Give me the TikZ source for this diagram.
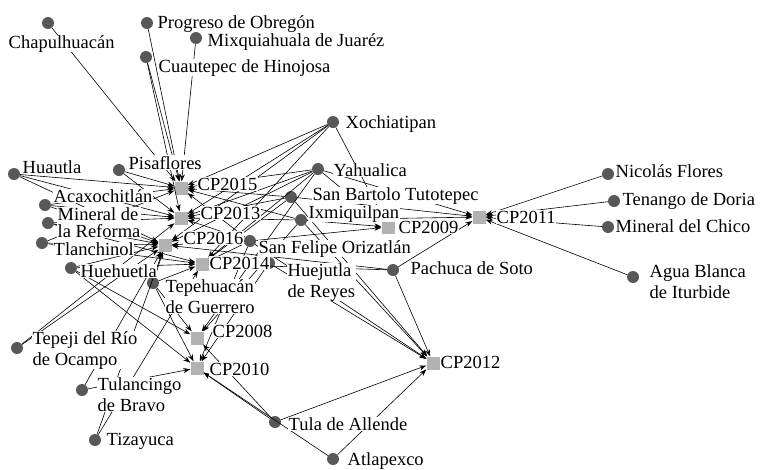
\documentclass[tikz,border=0pt]{standalone}
\usepackage{fontspec}
\setmainfont{Liberation Serif}
\usetikzlibrary{arrows.meta}
\definecolor{munigray}{HTML}{58585A}
\definecolor{cpgray}{HTML}{B2B2B4}
\tikzset{
>={Stealth[length=7pt,width=5pt]},
  muni/.style={
    circle,
    fill=munigray,
    inner sep=0pt,
    minimum size=12pt},
  cpnode/.style={
    rectangle,
    fill=cpgray,
    inner sep=0pt,
    minimum size=13pt},
  lbl/.style={
    anchor=base west,
    fill=white,
    inner sep=0.5pt,
    align=left,
    font=\fontsize{18.5}{21}\selectfont},
  link/.style={draw=black, line width=0.6pt, ->},
}

\begin{document}
\begin{tikzpicture}[x=1pt,y=-1pt]
	\useasboundingbox (0,0) rectangle (761,469);

	% municipios
	\node [muni] (chapul)   at (48,23)  {};
	\node [muni] (progreso) at (147,23) {};
	\node [muni] (mixqui)   at (196,38) {};
	\node [muni] (cuaute)   at (146,57) {};
	\node [muni] (xochia)   at (333,122) {};
	\node [muni] (yahua)    at (318,169) {};
	\node [muni] (sanbart)  at (291,197) {};
	\node [muni] (ixmiq)    at (301,220) {};
	\node [muni] (sanfel)   at (250,241) {};
	\node [muni] (huejut)   at (269,263) {};
	\node [muni] (pachuca)  at (393,270) {};
	\node [muni] (nicolas)  at (608,174) {};
	\node [muni] (tenango)  at (614,201) {};
	\node [muni] (minchico) at (608,227) {};
	\node [muni] (aguabl)   at (633,277) {};
	\node [muni] (tula)     at (275,422) {};
	\node [muni] (atlap)    at (333,459) {};
	\node [muni] (tepehua)  at (153,283) {};
	\node [muni] (huehue)   at (71,268)  {};
	\node [muni] (tepeji)   at (17,348)  {};
	\node [muni] (tulanc)   at (82,390)  {};
	\node [muni] (tizay)    at (95,440)  {};
	\node [muni] (huautla)  at (14,174)  {};
	\node [muni] (pisaf)    at (119,170) {};
	\node [muni] (acaxo)    at (45,205)  {};
	\node [muni] (minref)   at (48,223)  {};
	\node [muni] (tlanch)   at (42,243)  {};

	% componentes
	\node [cpnode] (cp15) at (181,188) {};
	\node [cpnode] (cp13) at (181,218) {};
	\node [cpnode] (cp16) at (165,245) {};
	\node [cpnode] (cp14) at (202,264) {};
	\node [cpnode] (cp08) at (197,338) {};
	\node [cpnode] (cp10) at (197,368) {};
	\node [cpnode] (cp09) at (388,227) {};
	\node [cpnode] (cp11) at (479,217) {};
	\node [cpnode] (cp12) at (433,363) {};

	\path [link]
		(chapul) edge (cp15) (progreso) edge (cp15) (cuaute) edge (cp15)
		(mixqui) edge (cp15) (pisaf) edge (cp15) (huautla) edge (cp15)
		(acaxo) edge (cp15) (tlanch) edge (cp15) (xochia) edge (cp15)
		(yahua) edge (cp15) (sanbart) edge (cp15) (ixmiq) edge (cp15)
		(sanfel) edge (cp15);
	\path [link]
		(cuaute) edge (cp13) (pisaf) edge (cp13) (huautla) edge (cp13)
		(acaxo) edge (cp13) (minref) edge (cp13) (tepeji) edge (cp13)
		(xochia) edge (cp13) (yahua) edge (cp13) (sanbart) edge (cp13)
		(ixmiq) edge (cp13) (sanfel) edge (cp13);
	\path [link]
		(huautla) edge (cp16) (acaxo) edge (cp16) (minref) edge (cp16)
		(tlanch) edge (cp16) (huehue) edge (cp16) (tepeji) edge (cp16)
		(tulanc) edge (cp16) (tizay) edge (cp16) (xochia) edge (cp16)
		(yahua) edge (cp16) (sanfel) edge (cp16) (tepehua) edge (cp16)
		(pachuca) edge (cp16);
	\path [link]
		(minref) edge (cp14) (tlanch) edge (cp14) (huehue) edge (cp14)
		(tizay) edge (cp14) (xochia) edge (cp14) (yahua) edge (cp14)
		(sanbart) edge (cp14) (sanfel) edge (cp14) (huejut) edge (cp14)
		(tepehua) edge (cp14) (pachuca) edge (cp14);
	\path [link]
		(huehue) edge (cp08) (tepehua) edge (cp08) (yahua) edge (cp08)
		(ixmiq) edge (cp08) (tula) edge (cp08);
	\path [link]
		(huehue) edge (cp10) (tulanc) edge (cp10) (tepehua) edge (cp10)
		(tula) edge (cp10) (atlap) edge (cp10) (sanfel) edge (cp10)
		(huejut) edge (cp10);
	\path [link]
		(xochia) edge (cp09) (ixmiq) edge (cp09) (sanfel) edge (cp09)
		(yahua) edge (cp09);
	\path [link]
		(yahua) edge (cp11) (ixmiq) edge (cp11) (sanbart) edge (cp11)
		(pachuca) edge (cp11) (nicolas) edge (cp11) (tenango) edge (cp11)
		(minchico) edge (cp11) (aguabl) edge (cp11);
	\path [link]
		(sanfel) edge (cp12) (huejut) edge (cp12) (ixmiq) edge (cp12)
		(pachuca) edge (cp12) (tula) edge (cp12) (atlap) edge (cp12)
		(sanbart) edge (cp12);

	% etiquetas (base = ultima linea)
	\node [lbl] (chapul-l)   at (8,48)    {Chapulhuacán};
	\node [lbl] (progreso-l) at (157,28)  {Progreso de Obregón};
	\node [lbl] (mixqui-l)   at (207,46)  {Mixquiahuala de Juaréz};
	\node [lbl] (cuaute-l)   at (158,72)  {Cuautepec de Hinojosa};
	\node [lbl] (xochia-l)   at (345,128) {Xochiatipan};
	\node [lbl] (yahua-l)    at (333,176) {Yahualica};
	\node [lbl] (sanbart-l)  at (312,200) {San Bartolo Tutotepec};
	\node [lbl] (ixmiq-l)    at (308,218) {Ixmiquilpan};
	\node [lbl] (sanfel-l)   at (258,253) {San Felipe Orizatlán};
	\node [lbl] (huejut-l)   at (287,297) {Huejutla\\de Reyes};
	\node [lbl] (pachuca-l)  at (410,274) {Pachuca de Soto};
	\node [lbl] (nicolas-l)  at (615,177) {Nicolás Flores};
	\node [lbl] (tenango-l)  at (622,205) {Tenango de Doria};
	\node [lbl] (minchico-l) at (615,232) {Mineral del Chico};
	\node [lbl] (aguabl-l)   at (649,298) {Agua Blanca\\de Iturbide};
	\node [lbl] (tula-l)     at (288,430) {Tula de Allende};
	\node [lbl] (atlap-l)    at (347,465) {Atlapexco};
	\node [lbl] (tepehua-l)  at (165,313) {Tepehuacán\\de Guerrero};
	\node [lbl] (huehue-l)   at (80,277)  {Huehuetla};
	\node [lbl] (tepeji-l)   at (32,365)  {Tepeji del Río\\de Ocampo};
	\node [lbl] (tulanc-l)   at (97,411)  {Tulancingo\\de Bravo};
	\node [lbl] (tizay-l)    at (106,445) {Tizayuca};
	\node [lbl] (huautla-l)  at (22,173)  {Huautla};
	\node [lbl] (pisaf-l)    at (128,169) {Pisaflores};
	\node [lbl] (acaxo-l)    at (53,202)  {Acaxochitlán};
	\node [lbl] (minref-l)   at (57,237)  {Mineral de\\[-4pt]la Reforma};
	\node [lbl] (tlanch-l)   at (53,255)  {Tlanchinol};
	\node [lbl] (cp15-l)     at (197,190) {CP2015};
	\node [lbl] (cp13-l)     at (200,219) {CP2013};
	\node [lbl] (cp16-l)     at (183,244) {CP2016};
	\node [lbl] (cp14-l)     at (209,269) {CP2014};
	\node [lbl] (cp08-l)     at (212,337) {CP2008};
	\node [lbl] (cp10-l)     at (209,375) {CP2010};
	\node [lbl] (cp09-l)     at (398,233) {CP2009};
	\node [lbl] (cp11-l)     at (496,223) {CP2011};
	\node [lbl] (cp12-l)     at (440,368) {CP2012};
\end{tikzpicture}
\end{document}
